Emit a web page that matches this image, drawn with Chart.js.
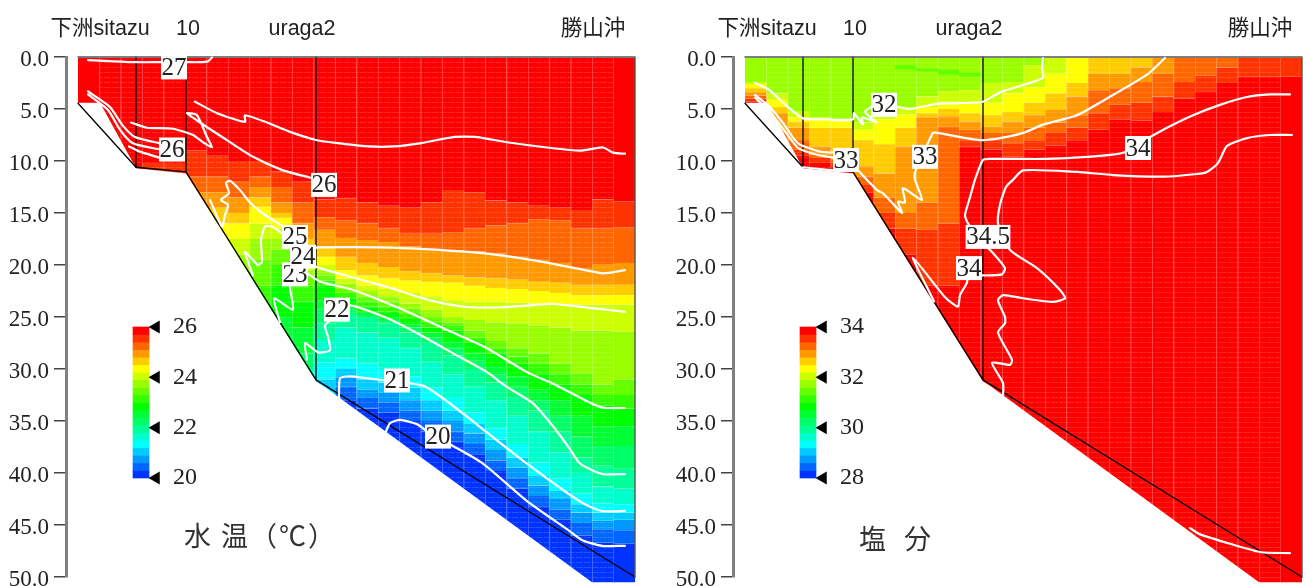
<!DOCTYPE html>
<html>
<head>
<meta charset="utf-8">
<script src="https://cdn.jsdelivr.net/npm/chart.js@4"></script>
<style>
  html, body { margin: 0; padding: 0; background: #fff; overflow: hidden; }
  canvas { position: absolute; }
  .name { position: absolute; font-family: "Noto Sans CJK JP"; font-size: 27px; color: #333; white-space: pre; line-height: 30px; letter-spacing: 2px; }
</style>
</head>
<body>
<canvas id="tempChart" width="655" height="586" style="left:0;top:0"></canvas>
<canvas id="salChart" width="655" height="586" style="left:667px;top:0"></canvas>
<canvas id="tempBar" width="120" height="200" style="left:100px;top:300px"></canvas>
<canvas id="salBar" width="120" height="200" style="left:767px;top:300px"></canvas>
<div class="name" style="left:184px;top:520px">水 温（℃）</div>
<div class="name" style="left:859px;top:523px">塩  分</div>
<script>
const depthTicks = [0, 5, 10, 15, 20, 25, 30, 35, 40, 45, 50];
const stationLabels = ["下洲sitazu", "10", "uraga2", "勝山沖"];
const stationLabelX = [22, 110, 224, 515];
const stationX = [58, 108, 238];
const stationBottom = [10.6, 11.1, 31];
const seabedX = [0, 58, 108, 238, 557];
const seabedD = [4.45, 10.6, 11.05, 31.05, 50];
// edge of the coloured section, it does not follow the seabed line everywhere
const sectionX = [0, 557, 557, 514, 245, 238, 108, 58, 22, 0];
const sectionD = [0, 0, 50.5, 50.5, 31.6, 31.2, 11.2, 10.7, 4.4, 4.4];

const palette = ["#ff0000", "#ff3300", "#ff6600", "#ff9900", "#ffcc00", "#ffff00", "#ccff00", "#99ff00", "#66ff00", "#33ff00",
  "#00ff00", "#00ff33", "#00ff66", "#00ff99", "#00ffcc", "#00ffff", "#00ccff", "#0099ff", "#0066ff", "#0033ff"];
const columnX = [10.7, 32.1, 53.6, 75, 96.4, 117.9, 139.3, 160.7, 182.1, 203.6, 225, 246.4, 267.9, 289.3, 310.7, 332.1, 353.6, 375, 396.4, 417.9, 439.3, 460.7, 482.1, 503.6, 525, 546.4];

// depth where each colour step ends, one row per column, top of water first
const tempStart = [0, 0, 0, 0, 0, 0, 0, 0, 0, 0, 0, 0, 0, 0, 0, 0, 0, 0, 0, 0, 0, 0, 0, 0, 0, 0];
const tempBands = [
  [],
  [],
  [],
  [10.2],
  [10.2],
  [9, 11.5, 13, 15],
  [9.5, 11.5, 13, 14.5, 16, 18],
  [10, 12, 13.5, 15, 16, 17.5, 19, 21],
  [10, 11.5, 12.5, 13.5, 14.4, 16, 17.5, 19.5, 22, 24],
  [11, 12.5, 14, 15, 15.5, 16.5, 17.5, 18.5, 20, 22, 25, 28],
  [12, 14, 16, 17.5, 18.5, 19.5, 20.5, 21, 22, 23.5, 26, 28.5, 30, 31],
  [13.7, 15.4, 16.6, 18.2, 19.2, 20, 20.5, 21, 21.5, 22, 23.4, 24.3, 25.6, 27.2, 29.4, 31, 32.5],
  [13.6, 15.7, 17.4, 19.2, 20.5, 21.3, 21.8, 22.3, 22.7, 23.2, 23.9, 24.3, 24.7, 26, 29, 30, 30.8, 31.7, 33],
  [14, 16, 17.6, 19.8, 21, 22, 22.5, 23, 23.5, 24, 24.5, 24.8, 25.1, 26.5, 29.5, 31, 32, 32.8, 33.8],
  [14.3, 16.5, 17.8, 20.2, 21.3, 22.3, 23, 23.5, 24, 24.5, 25, 25.3, 25.6, 27, 30, 31.3, 32.3, 33.2, 34.2],
  [14.5, 17, 18.2, 20.6, 21.5, 22.7, 23.7, 24.2, 24.7, 25.2, 25.7, 26, 26.5, 28, 30.7, 31.8, 33, 34, 35],
  [14, 17, 18.5, 20.8, 21.6, 23, 24.3, 25, 25.4, 26, 26.5, 27, 27.5, 29.3, 31.8, 33, 34, 35, 36],
  [12.8, 16.9, 18.6, 21, 21.7, 23.4, 25, 25.5, 25.8, 26.3, 27.3, 28, 28.7, 30.5, 32.8, 34, 35, 36, 37],
  [13, 16.5, 18.7, 21.2, 22, 23.5, 25.3, 26.3, 27, 27.5, 28.5, 29.2, 30, 31.7, 34.2, 35.3, 36.2, 37.2, 38.2],
  [13.8, 16.2, 18.9, 21.3, 22.2, 23.5, 25.5, 27.3, 28, 28.5, 29.7, 30.5, 31.3, 33, 35.7, 36.8, 37.8, 38.8, 39.8],
  [14, 16, 19.2, 21.4, 22.3, 23.6, 25.6, 28, 28.8, 29.5, 30.7, 31.7, 32.7, 34.5, 37.2, 38.5, 39.5, 40.5, 41.5],
  [14.3, 15.6, 19.5, 21.6, 22.5, 23.7, 25.8, 28.5, 29.5, 30.5, 32, 33, 34, 36, 39, 40.3, 41.2, 42.2, 43.2],
  [14.5, 15.7, 19.8, 21.7, 22.7, 23.8, 26, 29.5, 30.5, 31.5, 33, 34.5, 36, 38, 40.5, 41.7, 42.5, 43.5, 44.5],
  [14.7, 16.5, 20.3, 21.9, 22.9, 23.8, 26.3, 30.4, 31.5, 32.5, 34.5, 36.5, 38.5, 40, 42, 43, 43.8, 44.8, 46],
  [13.7, 16.5, 19.9, 21.9, 22.9, 23.8, 26.3, 31.5, 32.5, 33.5, 35.5, 37.4, 39.3, 41.3, 42.9, 43.8, 44.6, 45.4, 46.7],
  [13.9, 16.4, 19.8, 21.9, 22.9, 23.8, 26.4, 31, 32.5, 33.8, 35.5, 37.4, 39.6, 41.5, 43, 43.8, 44.5, 45.5, 46.8]
];
const salStart = [7, 7, 7, 7, 7, 7, 7, 7, 7, 7, 7, 7, 7, 7, 6, 5, 4, 4, 4, 3, 2, 2, 2, 1, 1, 1];
const salBands = [
  [2.4, 2.6, 3, 3.4, 3.7, 4, 4.3],
  [3.5, 4.1, 4.8, 5.4, 7.3, 8.3, 9],
  [5.2, 5.8, 6.2, 6.8, 8, 8.9, 9.5],
  [5.8, 6, 6.8, 8.6, 9.4, 9.7, 10.2],
  [6, 6.2, 6.8, 9.2, 9.9, 10.2, 10.5],
  [6.3, 7, 8, 10.5, 11.5, 12.3, 13],
  [5, 6, 8.4, 11.2, 13.5, 15, 16.5],
  [4.8, 5.5, 6.8, 8.6, 15, 16.5, 19],
  [3.8, 4.8, 5.4, 5.8, 14, 16.6, 22],
  [3.3, 4.3, 5, 5.7, 6.7, 16, 22],
  [3.2, 4.4, 5.4, 6.2, 7, 8, 8.6],
  [2.5, 4.4, 5.6, 6.7, 7.3, 8, 8.9],
  [2.4, 3.5, 5.3, 6.2, 7.3, 8.3, 9.6],
  [0.8, 2.9, 4.4, 5.6, 6.8, 8, 8.9],
  [1.6, 3.5, 5.1, 6.3, 7.3, 8.5],
  [2.5, 3.8, 5.6, 6.8, 8],
  [1.6, 3.2, 5.4, 7],
  [1.6, 3, 4.6, 6],
  [1, 2.4, 4.4, 6.1],
  [1.6, 3.8, 5.3],
  [2.4, 4],
  [1.8, 3.3],
  [1, 2.5],
  [1.9],
  [1.9],
  [1.9]
];
// fresher streak just under the surface
const salPatchX = [160.7, 182.1, 203.6, 225];
const salPatchTop = [0.8, 1.1, 1.2, 1.5];
const salPatchBottom = [1.2, 1.4, 1.7, 1.9];

// contours: distance, depth
const t27X = [10, 32, 58, 84, 108, 122, 130, 134];
const t27D = [0.3, 0.4, 0.5, 0.5, 0.5, 0.5, 0.4, 0.05];
const t26aX = [10, 32, 44, 57, 82];
const t26aD = [3.3, 4.8, 6.5, 7.7, 8.3];
const t26bX = [10, 30, 42, 55, 82];
const t26bD = [3.6, 5.1, 7, 8.3, 8.9];
const t26cX = [51, 62, 82];
const t26cD = [8.6, 9.1, 9.7];
const t26dX = [53, 69, 95, 115, 125, 134, 129, 119, 109, 122, 149, 175, 205, 232];
const t26dD = [6.3, 6.8, 6.9, 7.5, 8.2, 8.7, 7.7, 5.6, 5.4, 6.3, 8, 9.6, 10.9, 11.6];
const t26eX = [117, 139, 167, 167, 189, 212, 239, 262, 292, 315, 342, 375, 399, 429, 469, 502, 525, 535, 547];
const t26eD = [4.3, 5.4, 6.25, 5.6, 6.3, 7.2, 8, 8.3, 8.6, 8.6, 8.3, 7.7, 7.7, 8.2, 8.7, 9, 8.7, 9.2, 9.3];
const t25lX = [132, 144, 147, 150, 143, 151, 148, 152, 162, 172, 184, 197, 207];
const t25lD = [13.75, 16.3, 15.2, 14.2, 13.75, 13.1, 12.1, 11.9, 12.8, 14, 15, 15.8, 16.4];
const t25rX = [228, 242, 302, 352, 409, 459, 502, 525, 547];
const t25rD = [18.4, 18.3, 18.3, 18.5, 18.9, 19.6, 20.4, 20.8, 20.5];
const t24lX = [175, 167, 180, 184, 183, 187, 194, 206];
const t24lD = [21, 18.75, 20, 19.7, 17.6, 16.3, 16.3, 17.1];
const t24rX = [225, 242, 275, 309, 352, 385, 415, 449, 475, 509, 547];
const t24rD = [19.7, 20.3, 21.2, 22.1, 23.4, 24, 24.1, 23.9, 23.75, 24.1, 24.5];
const t23lX = [202, 196, 215, 212, 214];
const t23lD = [25.5, 23.2, 24.3, 22.2, 21.4];
const t23rX = [229, 242, 275, 325, 375, 409, 449, 479, 505, 524, 547];
const t23rD = [20.8, 21.6, 22.4, 24.3, 26.5, 28, 30.3, 31.6, 32.9, 33.7, 33.75];
const t22X = [229, 227, 240, 252, 250, 247, 255, 270, 309, 342, 375, 409, 427, 455, 475, 492, 502, 524, 547];
const t22D = [29.1, 27.5, 28.4, 28.2, 26.9, 25.8, 25.1, 23.85, 25.1, 26.7, 28.5, 30.3, 31.6, 33.3, 35.5, 37.7, 39.1, 40.1, 40.1];
const t21X = [261, 262, 272, 307, 345, 369, 405, 449, 489, 505, 524, 547];
const t21D = [32.8, 30.9, 30.7, 31.1, 31.6, 33.1, 35.8, 39.1, 41.9, 42.9, 43.65, 43.65];
const t20X = [308, 312, 322, 339, 349, 375, 405, 449, 489, 505, 524, 547];
const t20D = [36, 35.2, 34.9, 35.3, 36, 37.4, 39.1, 42.7, 45.4, 46.5, 47, 47];
const tempLabelText = ["27", "26", "26", "25", "23", "24", "22", "21", "20"];
const tempLabelX = [96, 94, 246, 217, 217, 225, 259, 319, 360];
const tempLabelD = [1, 8.9, 12.3, 17.3, 20.9, 19.2, 24.3, 31.1, 36.5];

const s32X = [10, 25, 38, 58, 82, 108, 109, 118, 117, 132, 120, 127, 152, 165, 192, 225, 238, 255, 278, 298, 297, 298];
const s32D = [2.5, 3.2, 4.4, 5.9, 6, 6, 5.4, 6.5, 5.8, 6.3, 5.3, 4.8, 4.8, 5, 4.5, 4.4, 4.3, 3.4, 2.7, 2, 1, 0.1];
const s33X = [113, 132, 138, 157, 153, 160, 158, 177, 170, 170, 180, 188, 192, 235, 255, 278, 298, 332, 368, 402, 420];
const s33D = [10.9, 12.8, 13.1, 15, 13.9, 14, 12.6, 13.75, 11.8, 11.1, 8.9, 7.3, 7.3, 8, 7.8, 7.3, 6.5, 5.6, 3.65, 1.7, 0.1];
const s33aX = [10, 25, 38, 53, 75, 90];
const s33aD = [3.65, 4.8, 6.35, 8.3, 9.1, 9.2];
const s33bX = [10, 25, 35, 53, 72, 90];
const s33bD = [3.9, 5.3, 6.5, 8.75, 9.4, 9.7];
const s33cX = [58, 68, 88];
const s33cD = [10.6, 10.7, 10.9];
const s34X = [189, 168, 200, 213, 215, 222, 223, 238, 257, 260, 247, 240, 223, 220, 225, 230, 238, 245, 302, 342, 378, 405, 422, 448, 475, 502, 525, 545];
const s34D = [23.5, 19.3, 23.1, 24, 22.9, 21.7, 21, 21, 20.9, 20.3, 18.75, 18.1, 16, 15.2, 13.5, 11.8, 9.9, 9.8, 9.8, 9.6, 9.2, 7.7, 6.8, 5.6, 4.6, 3.85, 3.6, 3.6];
const s345X = [547, 525, 502, 482, 473, 462, 452, 418, 368, 332, 278, 268, 261, 255, 253, 265, 292, 315, 320, 308, 278, 258, 253, 260, 260, 253, 267, 265, 247, 258, 258];
const s345D = [7.5, 7.5, 7.8, 8.55, 10.2, 11.05, 11.25, 11.5, 11.35, 11.05, 10.9, 11.8, 12.5, 14.2, 16, 18.55, 20.3, 22.4, 23.2, 23.55, 23.2, 22.9, 23.4, 25, 25.6, 26.5, 29.1, 29.6, 29.4, 31.35, 32.7];
const s345bX = [445, 455, 515, 545];
const s345bD = [45.3, 45.9, 47.6, 47.7];
const salLabelText = ["32", "33", "33", "34", "34.5", "34"];
const salLabelX = [139, 101, 180, 393, 243, 224];
const salLabelD = [4.6, 9.9, 9.6, 8.75, 17.3, 20.3];

// colour key, one edge per step
const tempKeyEdges = [26, 25.7, 25.4, 25.1, 24.8, 24.5, 24.2, 23.9, 23.6, 23.3, 23, 22.7, 22.4, 22.1, 21.8, 21.5, 21.2, 20.9, 20.6, 20.3, 20];
const salKeyEdges = [34, 33.7, 33.4, 33.1, 32.8, 32.5, 32.2, 31.9, 31.6, 31.3, 31, 30.7, 30.4, 30.1, 29.8, 29.5, 29.2, 28.9, 28.6, 28.3, 28];
const tempKeyTicks = [20, 22, 24, 26];
const salKeyTicks = [28, 30, 32, 34];

const serif = '"Liberation Serif"';
const sans = '"Liberation Sans", "Noto Sans CJK JP"';

// faint horizontal hatching seen in the inner columns
function stripes(color) {
  const c = document.createElement("canvas");
  c.width = 8;
  c.height = 5;
  const g = c.getContext("2d");
  g.fillStyle = color;
  g.fillRect(0, 0, 8, 5);
  g.fillStyle = "rgba(255,255,255,0.14)";
  g.fillRect(0, 2, 7, 1);
  return c;
}

function bandDatasets(starts, bands, dir, patch) {
  const sets = palette.map((color) => {
    const pattern = document.createElement("canvas").getContext("2d").createPattern(stripes(color), "repeat");
    return {
      type: "bar",
      grouped: false,
      clip: false,
      barPercentage: 1,
      categoryPercentage: 1,
      data: [],
      backgroundColor: (ctx) => (ctx.raw && ctx.raw.x > columnX[0] && ctx.raw.x < columnX[25] ? pattern : color),
      borderSkipped: false,
      borderWidth: { left: 1, right: 0, top: 0, bottom: 0 },
      borderColor: (ctx) => (ctx.raw && ctx.raw.x > columnX[0] && ctx.raw.x < columnX[25] ? color + "b0" : color)
    };
  });
  bands.forEach((bottoms, c) => {
    let top = 0;
    let level = starts[c];
    bottoms.concat([52]).forEach((bottom) => {
      sets[level].data.push({ x: columnX[c], y: [top, bottom] });
      top = bottom;
      level += dir;
    });
  });
  if (patch) {
    const extra = Object.assign({}, sets[8], { data: patch.x.map((x, i) => ({ x: x, y: [patch.top[i], patch.bottom[i]] })), backgroundColor: palette[8], borderColor: palette[8] });
    sets.unshift(extra);
  }
  return sets;
}

function lineSet(xs, ds, color, width, tension) {
  return {
    type: "line",
    clip: false,
    data: xs.map((x, i) => ({ x: x, y: ds[i] })),
    borderColor: color,
    borderWidth: width,
    borderJoinStyle: "round",
    borderCapStyle: "round",
    pointRadius: 0,
    tension: tension,
    fill: false
  };
}

const sectionClip = {
  id: "sectionClip",
  beforeDatasetDraw(chart, args) {
    if (args.meta.type !== "bar") return;
    const { x, y } = chart.scales;
    const g = chart.ctx;
    g.save();
    g.beginPath();
    sectionX.forEach((v, i) => g.lineTo(x.getPixelForValue(v), y.getPixelForValue(sectionD[i])));
    g.closePath();
    g.clip();
  },
  afterDatasetDraw(chart, args) {
    if (args.meta.type === "bar") chart.ctx.restore();
  }
};

function labelPlugin(texts, xs, ds) {
  return {
    id: "contourLabels",
    afterDatasetsDraw(chart) {
      const g = chart.ctx;
      g.save();
      g.font = "25px " + serif;
      g.textAlign = "center";
      g.textBaseline = "middle";
      texts.forEach((t, i) => {
        const px = chart.scales.x.getPixelForValue(xs[i]);
        const py = chart.scales.y.getPixelForValue(ds[i]);
        const w = g.measureText(t).width + 1;
        g.fillStyle = "#fff";
        g.fillRect(px - w / 2, py - 12, w, 24);
        g.fillStyle = "#222";
        g.fillText(t, px, py + 1);
      });
      g.restore();
    }
  };
}

function drawPanel(id, bars, contours, labels) {
  const lines = contours.map((c) => lineSet(c[0], c[1], "#fff", 2.2, 0.2));
  const frame = [lineSet([0, 557, 557], [0, 0, 50], "#555", 1.4, 0), lineSet(seabedX, seabedD, "#000", 1.3, 0)];
  stationX.forEach((x, i) => frame.push(lineSet([x, x], [0, stationBottom[i]], "#000", 1.3, 0)));
  new Chart(document.getElementById(id), {
    type: "bar",
    data: { datasets: lines.concat(frame, bars) },
    plugins: [sectionClip, labels],
    options: {
      responsive: false,
      animation: false,
      layout: { padding: { right: 20, bottom: 9 } },
      plugins: { legend: { display: false }, tooltip: { enabled: false } },
      scales: {
        x: {
          type: "linear",
          position: "top",
          offset: false,
          min: -12,
          max: 557,
          grid: { display: false, drawTicks: false, offset: false },
          border: { display: false },
          afterBuildTicks: (s) => { s.ticks = stationLabelX.map((v) => ({ value: v })); },
          afterFit: (s) => { s.height = 57; s.paddingLeft = 0; s.paddingRight = 0; },
          ticks: {
            autoSkip: false,
            maxRotation: 0,
            minRotation: 0,
            padding: 15,
            color: "#222",
            font: { family: sans, size: 21.5 },
            callback: (v, i) => stationLabels[i]
          }
        },
        y: {
          type: "linear",
          reverse: true,
          min: 0,
          max: 50,
          afterBuildTicks: (s) => { s.ticks = depthTicks.map((v) => ({ value: v })); },
          afterFit: (s) => { s.width = 66; s.paddingTop = 0; s.paddingBottom = 0; },
          border: { color: "#808080", width: 3 },
          grid: { drawOnChartArea: false, drawTicks: true, tickLength: 12, color: "#444", lineWidth: 1.5 },
          ticks: {
            color: "#222",
            padding: 5,
            font: { family: serif, size: 23, lineHeight: 0.3 },
            // empty first line pushes the number a little below its tick, as in the reference
            callback: (v) => ["", v.toFixed(1)]
          }
        }
      }
    }
  });
}

function drawKey(id, edges, ticks) {
  const sets = palette.map((color, i) => ({
    type: "bar",
    grouped: false,
    clip: false,
    barThickness: 16,
    data: [{ x: 8, y: [edges[i + 1], edges[i]] }],
    backgroundColor: color
  }));
  sets.unshift({
    type: "scatter",
    clip: false,
    data: ticks.map((t) => ({ x: 23, y: t })),
    pointStyle: "triangle",
    rotation: -90,
    pointRadius: 7.5,
    backgroundColor: "#000",
    borderWidth: 0,
    showLine: false
  });
  new Chart(document.getElementById(id), {
    type: "bar",
    data: { datasets: sets },
    options: {
      responsive: false,
      animation: false,
      layout: { padding: { left: 33, top: 27, bottom: 22 } },
      plugins: { legend: { display: false }, tooltip: { enabled: false } },
      scales: {
        x: { type: "linear", display: false, offset: false, min: 0, max: 32 },
        y: {
          type: "linear",
          position: "right",
          min: edges[20],
          max: edges[0],
          afterBuildTicks: (s) => { s.ticks = ticks.map((v) => ({ value: v })); },
          afterFit: (s) => { s.width = 55; s.paddingTop = 0; s.paddingBottom = 0; },
          border: { display: false },
          grid: { display: false, drawTicks: false },
          ticks: { color: "#222", padding: 8, font: { family: serif, size: 24 } }
        }
      }
    }
  });
}

const tempContours = [[t27X, t27D], [t26aX, t26aD], [t26bX, t26bD], [t26cX, t26cD], [t26dX, t26dD], [t26eX, t26eD], [t25lX, t25lD], [t25rX, t25rD],
  [t24lX, t24lD], [t24rX, t24rD], [t23lX, t23lD], [t23rX, t23rD], [t22X, t22D], [t21X, t21D], [t20X, t20D]];
const salContours = [[s32X, s32D], [s33X, s33D], [s33aX, s33aD], [s33bX, s33bD], [s33cX, s33cD], [s34X, s34D], [s345X, s345D], [s345bX, s345bD]];

drawPanel("tempChart", bandDatasets(tempStart, tempBands, 1), tempContours, labelPlugin(tempLabelText, tempLabelX, tempLabelD));
drawPanel("salChart", bandDatasets(salStart, salBands, -1, { x: salPatchX, top: salPatchTop, bottom: salPatchBottom }), salContours, labelPlugin(salLabelText, salLabelX, salLabelD));
drawKey("tempBar", tempKeyEdges, tempKeyTicks);
drawKey("salBar", salKeyEdges, salKeyTicks);
</script>
</body>
</html>
